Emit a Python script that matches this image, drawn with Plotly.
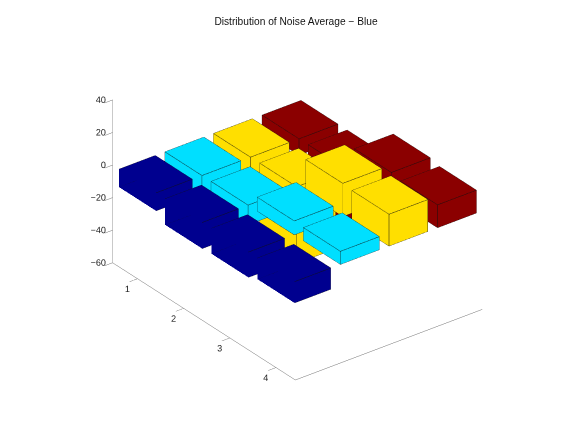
import plotly.graph_objects as go

title = "Distribution of Noise Average \u2212 Blue"
rows = [1, 2, 3, 4]
col_positions = [1, 2, 3, 4]
col_colors = ["#00008F", "#00DFFF", "#FFDF00", "#8B0000"]
col1 = [-11, -16, -15.5, -13]
col2 = [-12, -12, 8.5, 8]
col3 = [-15, -47, 20.3, 19.5]
col4 = [-10, -35, 15.7, 14]
z_ticks = [-60, -40, -20, 0, 20, 40]
z_labels = ["\u221260", "\u221240", "\u221220", "0", "20", "40"]
x_range = [0.654, 4.5]
y_range = [4.42, 0.46]
z_range = [-60, 40]
bar_width = 0.8

fig = go.Figure()
hw = bar_width / 2
for xc, vals, color in zip(col_positions, [col1, col2, col3, col4], col_colors):
    X, Y, Z, I, J, K = [], [], [], [], [], []
    ex, ey, ez = [], [], []
    for yc, v in zip(rows, vals):
        n = len(X)
        for zz in (0, v):
            for dx, dy in ((-hw, -hw), (hw, -hw), (hw, hw), (-hw, hw)):
                X.append(xc + dx); Y.append(yc + dy); Z.append(zz)
        quads = [(0, 1, 2, 3), (4, 5, 6, 7), (0, 1, 5, 4), (1, 2, 6, 5), (2, 3, 7, 6), (3, 0, 4, 7)]
        for a, b, c, d in quads:
            I += [n + a, n + a]; J += [n + b, n + c]; K += [n + c, n + d]
        for a, b, c, d in quads:
            for p in (a, b, c, d, a):
                ex.append(X[n + p]); ey.append(Y[n + p]); ez.append(Z[n + p])
            ex.append(None); ey.append(None); ez.append(None)
    fig.add_trace(go.Mesh3d(x=X, y=Y, z=Z, i=I, j=J, k=K, color=color, flatshading=True,
                            lighting=dict(ambient=1, diffuse=0, specular=0, fresnel=0, roughness=1),
                            hoverinfo="skip", showscale=False))
    fig.add_trace(go.Scatter3d(x=ex, y=ey, z=ez, mode="lines", line=dict(color="#101010", width=1),
                               hoverinfo="skip", showlegend=False))

label_font = dict(family="Liberation Sans, Arial, sans-serif", size=9, color="#222222")
fig.add_trace(go.Scatter3d(x=[x_range[0] + 0.03] * len(z_ticks), y=[y_range[1] + 0.01] * len(z_ticks),
                           z=z_ticks,
                           mode="text", text=z_labels, textposition="middle left", textfont=label_font,
                           hoverinfo="skip", showlegend=False))
fig.add_trace(go.Scatter3d(x=[x_range[0] + 0.02] * len(rows), y=rows, z=[z_range[0] + 1] * len(rows),
                           mode="text", text=[str(r) for r in rows], textposition="bottom left", textfont=label_font,
                           hoverinfo="skip", showlegend=False))

common = dict(showbackground=False, showgrid=False, zeroline=False, showline=True, showticklabels=False,
              linecolor="#707070", linewidth=1, title=dict(text=""), showspikes=False)
center = dict(x=-0.008, y=0, z=-0.10)
direction = dict(x=-0.5296, y=-0.690, z=0.492)
d = 1.88
fig.update_layout(
    width=576, height=432, showlegend=False,
    paper_bgcolor="white", margin=dict(l=0, r=0, t=0, b=0),
    title=dict(text=title, x=0.5, xanchor="center", y=0.97, yanchor="middle",
               font=dict(family="Liberation Sans, Arial, sans-serif", size=10.2, color="#111111")),
    scene=dict(
        domain=dict(x=[0, 1], y=[0, 1]),
        xaxis=dict(range=x_range, ticks="", **common),
        yaxis=dict(range=y_range, tickvals=rows, ticks="outside", ticklen=2, tickcolor="#707070", **common),
        zaxis=dict(range=z_range, tickvals=z_ticks, ticks="outside", ticklen=2, tickcolor="#707070", **common),
        aspectmode="manual",
        aspectratio=dict(x=1.09, y=1.39, z=0.866),
        camera=dict(projection=dict(type="orthographic"),
                    up=dict(x=0, y=0, z=1),
                    center=center,
                    eye=dict(x=center["x"] + direction["x"] * d,
                             y=center["y"] + direction["y"] * d,
                             z=center["z"] + direction["z"] * d)),
    ),
)
fig.write_html("out.html")
